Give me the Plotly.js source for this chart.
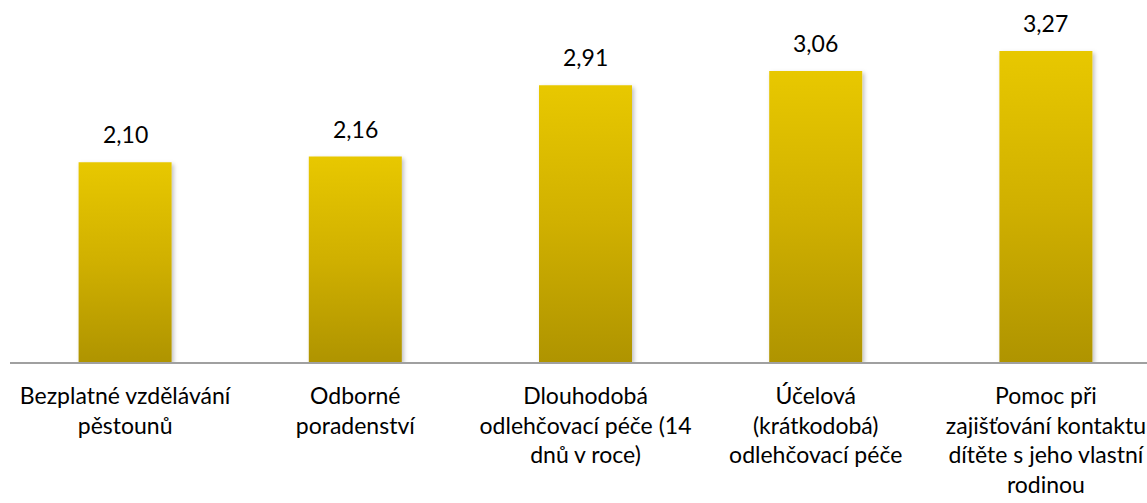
<!DOCTYPE html>
<html>
<head>
<meta charset="utf-8">
<script src="https://cdn.plot.ly/plotly-3.0.1.min.js"></script>
<style>
  html, body { margin: 0; padding: 0; overflow: hidden; background: #fff; width: 1147px; height: 503px; }
  #chart { width: 1165px; height: 503px; }
</style>
</head>
<body>
<div id="chart"></div>
<script>
const categories = [
  "Bezplatné vzdělávání pěstounů",
  "Odborné poradenství",
  "Dlouhodobá odlehčovací péče (14 dnů v roce)",
  "Účelová (krátkodobá) odlehčovací péče",
  "Pomoc při zajišťování kontaktu dítěte s jeho vlastní rodinou"
];
const tickLabels = [
  "Bezplatné vzdělávání<br>pěstounů",
  "Odborné<br>poradenství",
  "Dlouhodobá<br>odlehčovací péče (14<br>dnů v roce)",
  "Účelová<br>(krátkodobá)<br>odlehčovací péče",
  "Pomoc při<br>zajišťování kontaktu<br>dítěte s jeho vlastní<br>rodinou"
];
const values = [2.10, 2.16, 2.91, 3.06, 3.27];

const FONT = "Lato, 'Open Sans', sans-serif";
const FS = 23;

const trace = {
  type: "bar",
  x: categories,
  y: values,
  marker: { color: "#cfb200", line: { width: 0 } },
  hoverinfo: "none"
};

const annotations = categories.map((c, i) => ({
  x: c, y: values[i], xref: "x", yref: "y",
  text: values[i].toFixed(2).replace(".", ","),
  showarrow: false, yanchor: "bottom", yshift: 12,
  font: { family: FONT, size: FS, color: "#000" }
}));

const layout = {
  width: 1165, height: 503,
  margin: { l: 10, r: 4, t: 0, b: 141, pad: 0 },
  paper_bgcolor: "#fff", plot_bgcolor: "#fff",
  showlegend: false,
  bargap: 0.596,
  separators: ",.",
  font: { family: FONT, size: FS, color: "#000" },
  xaxis: {
    type: "category",
    tickvals: categories, ticktext: tickLabels,
    showline: true, linecolor: "#a0a0a0", linewidth: 2,
    ticks: "", showgrid: false, zeroline: false,
    tickfont: { family: FONT, size: FS, color: "#000" },
    ticklabelstandoff: 12,
    range: [-0.5, 4.5], fixedrange: true
  },
  yaxis: {
    visible: false, range: [0, 3.806], showgrid: false, zeroline: false, fixedrange: true
  },
  annotations: annotations
};

Plotly.newPlot("chart", [trace], layout, { staticPlot: true, displayModeBar: false }).then(gd => {
  const svg = gd.querySelector(".main-svg");
  const ns = "http://www.w3.org/2000/svg";
  let defs = svg.querySelector("defs");
  if (!defs) { defs = document.createElementNS(ns, "defs"); svg.insertBefore(defs, svg.firstChild); }
  const grad = document.createElementNS(ns, "linearGradient");
  grad.setAttribute("id", "barGrad");
  grad.setAttribute("x1", "0"); grad.setAttribute("y1", "0");
  grad.setAttribute("x2", "0"); grad.setAttribute("y2", "1");
  [["0%", "#e8c800"], ["50%", "#d0b000"], ["100%", "#af9400"]].forEach(([o, c]) => {
    const s = document.createElementNS(ns, "stop");
    s.setAttribute("offset", o); s.setAttribute("stop-color", c);
    grad.appendChild(s);
  });
  defs.appendChild(grad);
  const filt = document.createElementNS(ns, "filter");
  filt.setAttribute("id", "barShadow");
  filt.setAttribute("x", "-10%"); filt.setAttribute("y", "-10%");
  filt.setAttribute("width", "130%"); filt.setAttribute("height", "130%");
  const ds = document.createElementNS(ns, "feDropShadow");
  ds.setAttribute("dx", "2"); ds.setAttribute("dy", "2");
  ds.setAttribute("stdDeviation", "2"); ds.setAttribute("flood-color", "#000");
  ds.setAttribute("flood-opacity", "0.25");
  filt.appendChild(ds);
  defs.appendChild(filt);
  gd.querySelectorAll(".barlayer .point path").forEach(p => {
    p.style.fill = "url(#barGrad)";
    p.setAttribute("filter", "url(#barShadow)");
  });
});
</script>
</body>
</html>
